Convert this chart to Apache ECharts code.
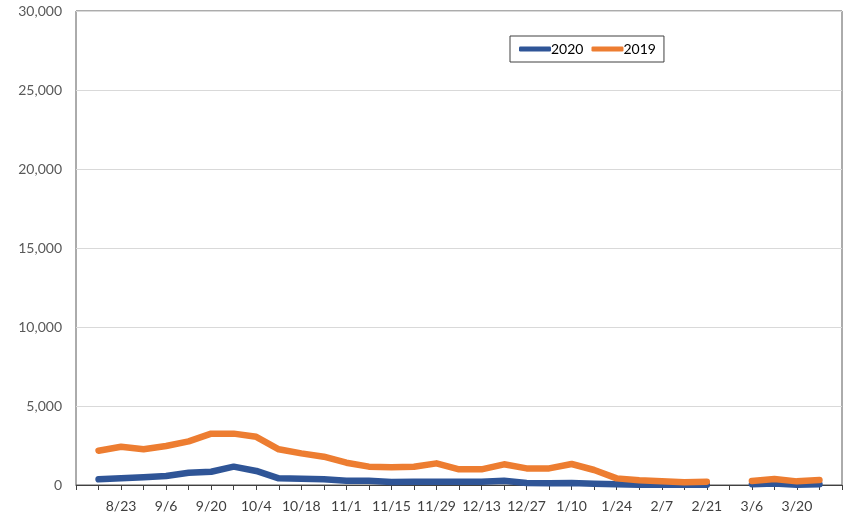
<!DOCTYPE html>
<html>
    <head>
        <meta charset="utf-8">
        <title>2020 vs 2019</title>
        <script src="https://cdn.jsdelivr.net/npm/echarts@6/dist/echarts.min.js"></script>
        <style>
            html, body { margin: 0; padding: 0; background: #fff; }
            #chart1 { width: 854px; height: 518px; }
        </style>
    </head>
    <body>
        <div id="chart1"></div>
        <script type="text/javascript">
            // weekly categories (first and last are empty padding weeks)
            var weeks = ['8/9', '8/16', '8/23', '8/30', '9/6', '9/13', '9/20', '9/27', '10/4', '10/11',
                '10/18', '10/25', '11/1', '11/8', '11/15', '11/22', '11/29', '12/6', '12/13', '12/20',
                '12/27', '1/3', '1/10', '1/17', '1/24', '1/31', '2/7', '2/14', '2/21', '2/28',
                '3/6', '3/13', '3/20', '3/27', '4/3'];

            var data2020 = [null, 360, 420, 490, 570, 780, 840, 1160, 890, 420,
                400, 360, 270, 270, 190, 210, 210, 210, 210, 270,
                130, 110, 130, 80, 40, 20, 10, 10, 10, null,
                50, 100, 20, 40, null];

            var data2019 = [null, 2170, 2420, 2260, 2470, 2760, 3250, 3250, 3050, 2260,
                2000, 1790, 1410, 1160, 1120, 1160, 1370, 990, 990, 1310,
                1050, 1050, 1330, 950, 420, 300, 230, 170, 210, null,
                250, 380, 230, 320, null];

            var yTicks = [0, 5000, 10000, 15000, 20000, 25000, 30000];

            var myChart = echarts.init(document.getElementById('chart1'));

            var lineStyle = function (color) {
                return { color: color, width: 6.5, cap: 'round', join: 'round' };
            };

            var option = {
                animation: false,
                textStyle: { fontFamily: 'Lato, "Open Sans", sans-serif' },
                grid: {
                    left: 76, right: 12, top: 11, bottom: 33,
                    show: true, borderColor: '#595959', borderWidth: 1
                },
                legend: {
                    data: ['2020', '2019'],
                    left: 510, top: 36,
                    padding: [6, 8, 6, 9],
                    borderColor: '#404040', borderWidth: 1,
                    icon: 'roundRect',
                    itemWidth: 32, itemHeight: 5, itemGap: 8,
                    textStyle: { fontSize: 14, color: '#000', padding: [0, 0, 0, -5] }
                },
                xAxis: {
                    type: 'category',
                    boundaryGap: false,
                    data: weeks,
                    axisLine: { lineStyle: { color: '#404040', width: 1 } },
                    axisTick: { interval: 0, length: 5, lineStyle: { color: '#404040' } },
                    axisLabel: {
                        interval: function (i) { return i % 2 === 0 && i > 0 && i < weeks.length - 1; },
                        fontSize: 14, color: '#404040', margin: 14
                    },
                    splitLine: { show: false }
                },
                yAxis: {
                    type: 'value',
                    min: yTicks[0],
                    max: yTicks[yTicks.length - 1],
                    interval: yTicks[1] - yTicks[0],
                    axisLine: { show: false },
                    axisTick: { show: false },
                    axisLabel: {
                        fontSize: 14, color: '#595959', margin: 14,
                        formatter: function (v) { return v.toLocaleString('en-US'); }
                    },
                    splitLine: { lineStyle: { color: '#d9d9d9', width: 1 } }
                },
                series: [{
                    name: '2020',
                    type: 'line',
                    data: data2020,
                    symbol: 'none',
                    connectNulls: false,
                    color: '#2f5597',
                    lineStyle: lineStyle('#2f5597'),
                    z: 2
                }, {
                    name: '2019',
                    type: 'line',
                    data: data2019,
                    symbol: 'none',
                    connectNulls: false,
                    color: '#ed7d31',
                    lineStyle: lineStyle('#ed7d31'),
                    z: 3
                }]
            };
            myChart.setOption(option);
        </script>
    </body>
</html>
